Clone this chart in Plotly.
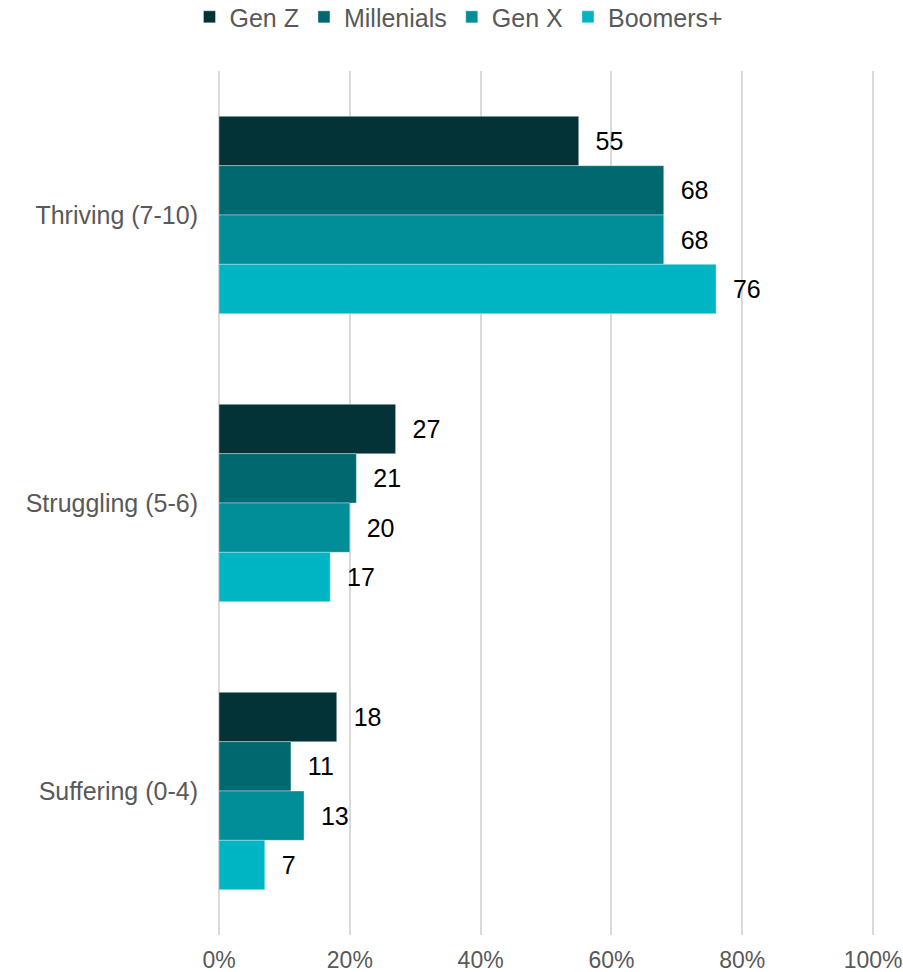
import plotly.graph_objects as go

# Wellbeing categories (top to bottom) and share of each generation (%)
categories = ["Thriving (7-10)", "Struggling (5-6)", "Suffering (0-4)"]
gen_z = [55, 27, 18]
millenials = [68, 21, 11]
gen_x = [68, 20, 13]
boomers = [76, 17, 7]

series = [
    ("Gen Z", gen_z, "#033237"),
    ("Millenials", millenials, "#02686F"),
    ("Gen X", gen_x, "#018E98"),
    ("Boomers+", boomers, "#00B5C3"),
]

FONT = "Liberation Sans"
GREY = "#595959"

fig = go.Figure()
for name, vals, color in series:
    fig.add_trace(go.Bar(
        name=name,
        y=categories,
        x=vals,
        orientation="h",
        marker=dict(color=color, line=dict(color="rgba(255,255,255,0.35)", width=1)),
        text=[str(v) for v in vals],
        texttemplate="  %{text}",
        textposition="outside",
        textfont=dict(family=FONT, size=25, color="#000000"),
        cliponaxis=False,
    ))

fig.update_layout(
    width=903,
    height=972,
    margin=dict(l=219, r=28, t=71, b=37, autoexpand=False),
    barmode="group",
    bargap=0.315,
    bargroupgap=0,
    plot_bgcolor="white",
    paper_bgcolor="white",
    font=dict(family=FONT, size=25, color=GREY),
    legend=dict(
        orientation="h",
        x=-0.045, xanchor="left",
        y=1.089, yanchor="top",
        font=dict(family=FONT, size=25, color=GREY),
        itemwidth=30,
        tracegroupgap=0,
    ),
    xaxis=dict(
        range=[0, 100.3],
        tickvals=[0, 20, 40, 60, 80, 100],
        ticktext=["0%", "20%", "40%", "60%", "80%", "100%"],
        showgrid=True,
        gridcolor="#D9D9D9",
        gridwidth=1.5,
        zeroline=True,
        zerolinecolor="#D9D9D9",
        zerolinewidth=1.5,
        showline=False,
        ticks="outside",
        ticklen=4,
        tickcolor="rgba(0,0,0,0)",
        tickfont=dict(family=FONT, size=23, color=GREY),
        ticklabeloverflow="allow",
        automargin=False,
        fixedrange=True,
    ),
    yaxis=dict(
        categoryorder="array",
        categoryarray=categories,
        autorange="reversed",
        showgrid=False,
        showline=False,
        ticks="outside",
        ticklen=15,
        tickcolor="rgba(0,0,0,0)",
        tickfont=dict(family=FONT, size=25, color=GREY),
        automargin=False,
    ),
)

fig.write_html("out.html")
